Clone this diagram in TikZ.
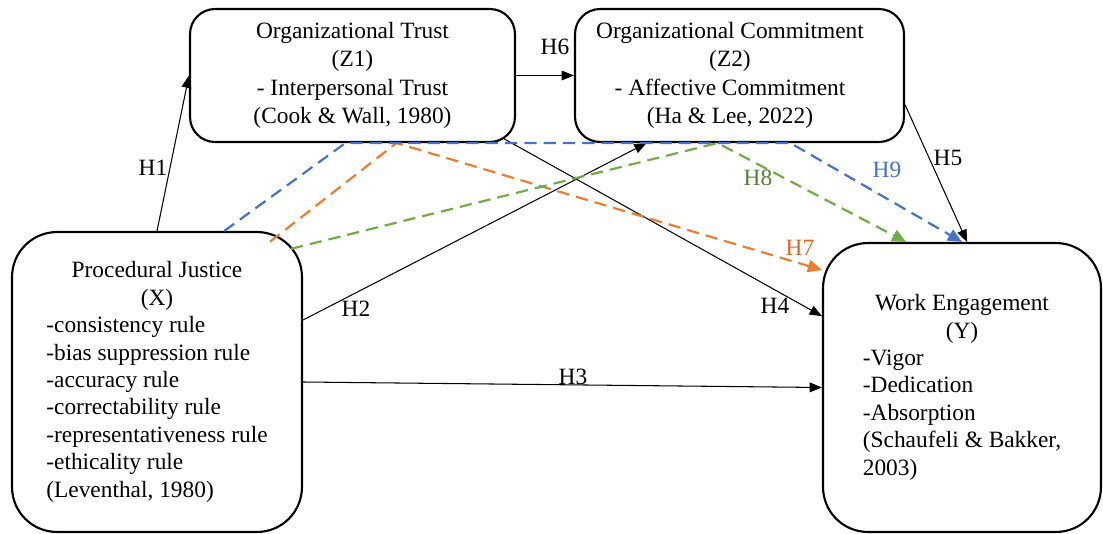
\documentclass[tikz,border=0pt]{standalone}
\usepackage{fontspec}
\setmainfont{Liberation Serif}
\usetikzlibrary{arrows.meta}
\definecolor{medOrange}{HTML}{ED7D31}
\definecolor{medGreen}{HTML}{70AD47}
\definecolor{medBlue}{HTML}{4472C4}
\definecolor{lblOrange}{HTML}{D9661F}
\definecolor{lblGreen}{HTML}{548235}

\begin{document}
\begin{tikzpicture}[x=0.02cm,y=-0.02cm,
    box/.style={draw,line width=1.2pt,rounded corners=#1,inner sep=0pt,
        font=\fontsize{13.3}{15.6}\selectfont},
    box/.default=0.5cm,
    hyp/.style={-{Triangle[length=7pt,width=5.5pt]},line width=0.6pt},
    med/.style={draw=#1,line width=1.25pt,dash pattern=on 7pt off 4pt,
        -{Triangle[length=8pt,width=7pt,fill=#1]}},
    lbl/.style={font=\fontsize{13.3}{15}\selectfont,inner sep=1pt}]
    \useasboundingbox (0,0) rectangle (1103,534);

    % variables
    \node[box,minimum width=6.5cm,minimum height=2.66cm,align=center,
        font=\fontsize{13.3}{16.2}\selectfont] (Z1) at (352.5,75.5)
        {Organizational Trust\\(Z1)\\- Interpersonal Trust\\(Cook \& Wall, 1980)};
    \node[box,minimum width=6.58cm,minimum height=2.66cm,
        font=\fontsize{13.3}{16.2}\selectfont] (Z2) at (739.5,75.5)
        {\begin{tabular}{@{}c@{\hspace{0.38cm}}}
            Organizational Commitment\\(Z2)\\- Affective Commitment\\(Ha \& Lee, 2022)
        \end{tabular}};
    \node[box=0.9cm,minimum width=5.8cm,minimum height=6cm] (X) at (157,382)
        {\begin{tabular}{@{}l@{}}
            \multicolumn{1}{c}{Procedural Justice}\\
            \multicolumn{1}{c}{(X)}\\
            -consistency rule\\
            -bias suppression rule\\
            -accuracy rule\\
            -correctability rule\\
            -representativeness rule\\
            -ethicality rule\\
            (Leventhal, 1980)
        \end{tabular}};
    \node[box=0.9cm,minimum width=5.56cm,minimum height=5.78cm] (Y) at (962,387.5)
        {\begin{tabular}{@{}l@{}}
            \multicolumn{1}{c}{Work Engagement}\\
            \multicolumn{1}{c}{(Y)}\\
            -Vigor\\
            -Dedication\\
            -Absorption\\
            (Schaufeli \& Bakker,\\
            2003)
        \end{tabular}};

    % direct paths
    \draw[hyp] (X.north) -- (Z1.west);
    \draw[hyp] (Z1.east) -- (Z2.west);
    \draw[hyp] (X.23) -- (Z2.216);
    \draw[hyp] (X.east) -- (Y.west);
    \draw[hyp,shorten <=-0.2cm] (Z1.-23) -- (Y.153);
    \draw[hyp] (Z2.-10) -- (Y.88);

    % mediated paths
    \draw[med=medOrange,shorten <=-0.35cm] (X.50) -- (Z1.-57) -- (Y.140);
    \draw[med=medGreen,shorten <=-0.25cm] (X.43) -- (Z2.252) -- (Y.111);
    \draw[med=medBlue] (X.66) -- (Z1.264) -- (Z2.-53) -- (Y.90);

    \node[lbl] (h1) at (153,168) {H1};
    \node[lbl] (h2) at (356,309) {H2};
    \node[lbl] (h3) at (573,377) {H3};
    \node[lbl] (h4) at (775,306) {H4};
    \node[lbl] (h5) at (948,158) {H5};
    \node[lbl] (h6) at (555,47) {H6};
    \node[lbl,text=lblOrange] (h7) at (800,248) {H7};
    \node[lbl,text=lblGreen] (h8) at (758,178) {H8};
    \node[lbl,text=medBlue] (h9) at (887,170) {H9};
\end{tikzpicture}
\end{document}
